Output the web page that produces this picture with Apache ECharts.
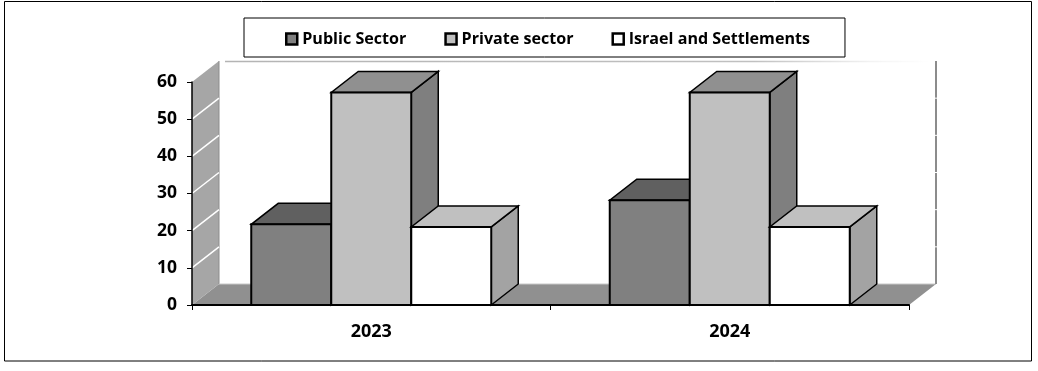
<!DOCTYPE html>
<html>
<head>
<meta charset="utf-8">
<title>Public sector, private sector, Israel and settlements</title>
<style>
  html, body { margin: 0; padding: 0; background: #fff; }
  #chart { width: 1038px; height: 371px; }
</style>
<script src="https://cdn.jsdelivr.net/npm/echarts@6/dist/echarts.min.js"></script>
</head>
<body>
<div id="chart"></div>
<script>
const categories = ['2023', '2024'];
const publicSector = [21.7, 28.2];
const privateSector = [57.2, 57.2];
const israelSettlements = [21, 21];
const yTicks = [0, 10, 20, 30, 40, 50, 60];

// fake 3d: how far the back of the box sits from the front, in px
const depthX = 27;
const depthY = -21;
const barShare = 80 / 358.5;

function shape(points, fill, stroke, width) {
  return {
    type: 'polygon',
    shape: { points: points },
    style: { fill: fill, stroke: stroke, lineWidth: width, lineJoin: 'miter' }
  };
}

function line(a, b, color, width) {
  return {
    type: 'line',
    shape: { x1: a[0], y1: a[1], x2: b[0], y2: b[1] },
    style: { stroke: color, lineWidth: width }
  };
}

// walls and floor behind the bars
function renderWalls(params, api) {
  const x0 = params.coordSys.x;
  const x1 = x0 + params.coordSys.width;
  const y0 = api.coord([0, 0])[1];
  const y1 = api.coord([0, 60])[1];
  // the top edge of the back wall fades out towards the right in the scan
  const topFade = new echarts.graphic.LinearGradient(0, 0, 1, 0, [
    { offset: 0, color: '#b4b4b4' },
    { offset: 0.75, color: '#c0c0c0' },
    { offset: 0.92, color: '#f4f4f4' },
    { offset: 1, color: '#ffffff' }
  ]);
  const children = [
    shape([[x0, y0], [x1, y0], [x1 + depthX, y0 + depthY], [x0 + depthX, y0 + depthY]], '#909090', null, 0),
    shape([[x0, y0], [x0 + depthX, y0 + depthY], [x0 + depthX, y1 + depthY], [x0, y1]], '#a6a6a6', null, 0),
    line([x0 + depthX, y0 + depthY], [x0 + depthX, y1 + depthY], '#8c8c8c', 1),
    line([x0 + depthX + 6, y1 + depthY + 0.5], [x1 + depthX - 6, y1 + depthY + 0.5 + 0.01], topFade, 1.5),
    line([x0 + depthX, y0 + depthY], [x1 + depthX, y0 + depthY], '#c8c8c8', 1),
    line([x1 + depthX, y0 + depthY], [x1 + depthX, y1 + depthY], '#8c8c8c', 2)
  ];
  yTicks.slice(1, -1).forEach(function (tick) {
    const y = api.coord([0, tick])[1];
    children.push(line([x0, y], [x0 + depthX, y + depthY], '#ffffff', 1.5));
    children.push(line([x1 + depthX - 2, y + depthY], [x1 + depthX + 1, y + depthY], '#ffffff', 1));
  });
  return { type: 'group', children: children };
}

function makeBox(offset, front, top, side) {
  return function (params, api) {
    const base = api.coord([api.value(0), 0]);
    const head = api.coord([api.value(0), api.value(1)]);
    const w = api.size([1, 0])[0] * barShare;
    const l = base[0] + (offset - 0.5) * w;
    const r = l + w;
    const b = base[1];
    const t = head[1];
    return {
      type: 'group',
      children: [
        shape([[r, b], [r + depthX, b + depthY], [r + depthX, t + depthY], [r, t]], side, '#000', 1.5),
        shape([[l, t], [r, t], [r + depthX, t + depthY], [l + depthX, t + depthY]], top, '#000', 1.5),
        shape([[l, b], [r, b], [r, t], [l, t]], front, '#000', 2)
      ]
    };
  };
}

function barSeries(name, values, offset, front, top, side) {
  return {
    name: name,
    type: 'custom',
    renderItem: makeBox(offset, front, top, side),
    encode: { x: 0, y: 1 },
    data: values.map(function (v, i) { return [i, v]; }),
    itemStyle: { color: front, borderColor: '#000', borderWidth: 2 },
    silent: true,
    z: 3
  };
}

const chart = echarts.init(document.getElementById('chart'), null, { renderer: 'canvas' });

chart.setOption({
  animation: false,
  backgroundColor: '#fff',
  textStyle: { fontFamily: '"Open Sans", sans-serif' },
  graphic: [{
    type: 'rect',
    z: -1,
    shape: { x: 4.5, y: 1.5, width: 1027, height: 359.5 },
    style: { fill: '#fff', stroke: '#000', lineWidth: 1 }
  }],
  grid: { left: 192, top: 82, width: 717, height: 223, containLabel: false },
  legend: {
    left: 244,
    top: 18,
    padding: [13, 35, 10, 41],
    itemGap: 38,
    itemWidth: 11,
    itemHeight: 11,
    icon: 'rect',
    backgroundColor: '#fff',
    borderColor: '#000',
    borderWidth: 1,
    borderRadius: 0,
    itemStyle: { borderColor: '#000', borderWidth: 2.5 },
    textStyle: { fontSize: 16.1, fontWeight: 'bold', color: '#000', fontFamily: '"Open Sans", sans-serif' },
    data: ['Public Sector', 'Private sector', 'Israel and Settlements']
  },
  xAxis: {
    type: 'category',
    data: categories,
    boundaryGap: true,
    z: 5,
    axisLine: { lineStyle: { color: '#000', width: 2 } },
    axisTick: { show: true, length: 5, lineStyle: { color: '#000', width: 1 } },
    axisLabel: { fontSize: 18, fontWeight: 'bold', color: '#000', margin: 18 }
  },
  yAxis: {
    type: 'value',
    min: 0,
    max: 60,
    interval: 10,
    z: 5,
    splitLine: { show: false },
    axisLine: { show: true, lineStyle: { color: '#000', width: 1.5 } },
    axisTick: { show: true, length: 5, lineStyle: { color: '#000', width: 1 } },
    axisLabel: { fontSize: 17.5, fontWeight: 'bold', color: '#000', margin: 15, padding: [4, 0, 0, 0] }
  },
  series: [
    {
      name: 'walls',
      type: 'custom',
      renderItem: renderWalls,
      data: [[0, 0]],
      silent: true,
      z: 1
    },
    barSeries('Public Sector', publicSector, -1, '#808080', '#606060', '#7a7a7a'),
    barSeries('Private sector', privateSector, 0, '#c0c0c0', '#909090', '#7f7f7f'),
    barSeries('Israel and Settlements', israelSettlements, 1, '#ffffff', '#c0c0c0', '#a3a3a3')
  ]
});
</script>
</body>
</html>
